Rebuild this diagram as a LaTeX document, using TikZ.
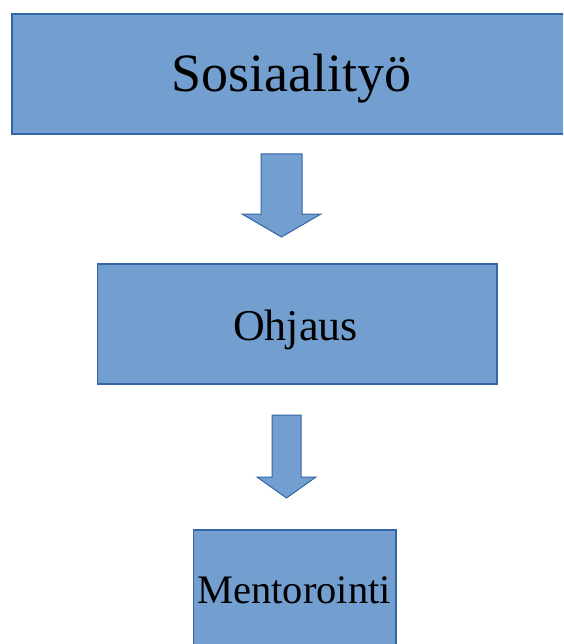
\documentclass[tikz,border=0pt]{standalone}
\usepackage{fontspec}
\setmainfont{Liberation Serif}
\definecolor{boxfill}{HTML}{729FCF}
\definecolor{boxline}{HTML}{3465A4}
\begin{document}
\begin{tikzpicture}[x=1pt,y=-1pt,
  block/.style={draw=boxline,fill=boxfill,line width=1.3pt},
  lbl/.style={anchor=base,inner sep=0pt,text=black}]
\useasboundingbox (0,0) rectangle (563,644);
\clip (0,0) rectangle (563,644);
% boxes
\draw[block] (12,14) rectangle (575,134);
\node[lbl,font=\fontsize{54}{58}\selectfont] (sos) at (291,91.7) {Sosiaalityö};
\draw[block] (97.5,264) rectangle (497,384);
\node[lbl,font=\fontsize{44}{48}\selectfont] (ohj) at (295.5,340) {Ohjaus};
\draw[block] (193.5,530) rectangle (396,660);
\node[lbl,font=\fontsize{40.5}{44}\selectfont] (men) at (294,603) {Mentorointi};
% block arrows
\draw[block,line width=1pt] (261,154) -- (302,154) -- (302,214) -- (321,214) -- (281.5,237) -- (242,214) -- (261,214) -- cycle;
\draw[block,line width=1pt] (272,415) -- (301,415) -- (301,477) -- (316,477) -- (286.5,498) -- (257,477) -- (272,477) -- cycle;
\end{tikzpicture}
\end{document}
